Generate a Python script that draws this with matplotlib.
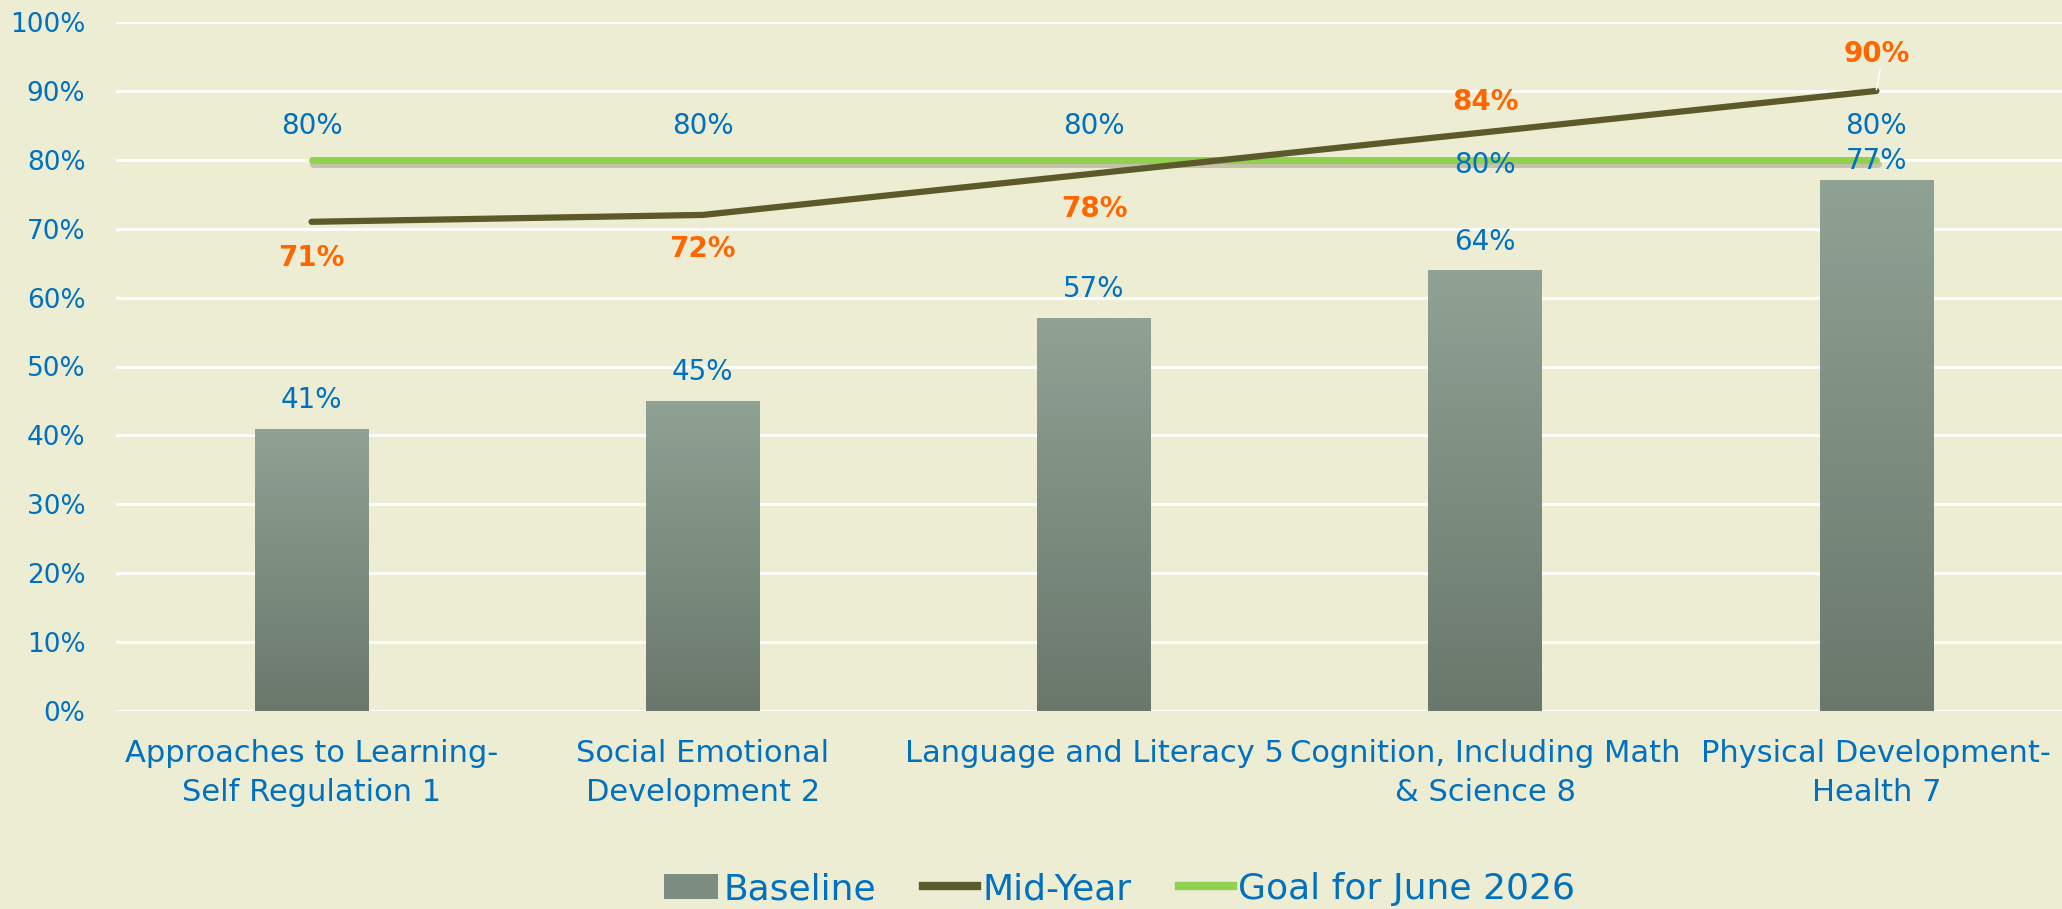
import numpy as np
import matplotlib
matplotlib.use("Agg")
import matplotlib.pyplot as plt
from matplotlib.patches import Patch
from matplotlib.lines import Line2D
from matplotlib.colors import LinearSegmentedColormap
import matplotlib.patheffects as pe

plt.rcParams['font.family'] = ['DejaVu Sans']

categories = ["Approaches to Learning-\nSelf Regulation 1",
              "Social Emotional\nDevelopment 2",
              "Language and Literacy 5",
              "Cognition, Including Math\n& Science 8",
              "Physical Development-\nHealth 7"]
baseline = [41, 45, 57, 64, 77]
mid_year = [71, 72, 78, 84, 90]
goal = [80, 80, 80, 80, 80]

bg = "#EDEDD3"
blue = "#0070C0"
orange = "#FF6600"

fig = plt.figure(figsize=(20.62, 9.09), dpi=100, facecolor=bg)
ax = fig.add_axes([116/2062, 1-711/909, (2072-116)/2062, (711-22)/909])
ax.set_facecolor(bg)

x = np.arange(len(categories))
bw = 0.29
bars = ax.bar(x, baseline, width=bw, color="none", zorder=2)
# gradient fill of bars
grad = np.linspace(1, 0, 256).reshape(-1, 1)
cm = LinearSegmentedColormap.from_list("g", ["#6A786C", "#8FA294"])
for b in bars:
    im = ax.imshow(grad, cmap=cm, aspect="auto", zorder=2,
                   extent=[b.get_x(), b.get_x()+b.get_width(), 0, b.get_height()])
    im.set_clip_path(b)

ax.plot(x, goal, color="#92D050", lw=5, solid_capstyle="round", zorder=3,
        path_effects=[pe.SimpleLineShadow(offset=(1, -3), shadow_color="#9a9a80", alpha=0.5), pe.Normal()])
ax.plot(x, mid_year, color="#5C5A2A", lw=4.5, solid_capstyle="round", zorder=4)

ax.set_xlim(-0.5, 4.5)
ax.set_ylim(0, 100)
ax.set_yticks(range(0, 101, 10))
ax.set_yticklabels([f"{v}%" for v in range(0, 101, 10)], color=blue, fontsize=19)
ax.set_xticks(x)
ax.set_xticklabels(categories, color=blue, fontsize=22, linespacing=1.45)
ax.tick_params(length=0)
ax.tick_params(axis="y", pad=22)
ax.tick_params(axis="x", pad=20)
ax.grid(axis="y", color="white", lw=2)
ax.set_axisbelow(True)
for s in ax.spines.values():
    s.set_visible(False)

# labels
base_off = [4.2, 4.2, 4.3, 4.1, 2.8]
for i, v in enumerate(baseline):
    ax.text(i, v + base_off[i], f"{v}%", ha="center", va="center", color=blue, fontsize=20, zorder=5)
goal_off = [4.9, 4.9, 4.9, -0.8, 4.9]
for i, v in enumerate(goal):
    ax.text(i, v + goal_off[i], f"{v}%", ha="center", va="center", color=blue, fontsize=20, zorder=5)
mid_off = [-5.2, -5.0, -5.1, 4.4, 5.4]
for i, v in enumerate(mid_year):
    ax.text(i, v + mid_off[i], f"{v}%", ha="center", va="center", color=orange, fontsize=20,
            fontweight="bold", zorder=5)
ax.plot([4, 4.01], [90.2, 93.2], color="white", lw=1, zorder=4)

handles = [Patch(facecolor="#7D8C80", edgecolor="none"),
           Line2D([0], [0], color="#5C5A2A", lw=6),
           Line2D([0], [0], color="#92D050", lw=6)]
leg = fig.legend(handles, ["Baseline", "Mid-Year", "Goal for June 2026"], loc="center",
                 bbox_to_anchor=(0.543, 1-889/909), ncol=3, frameon=False, fontsize=26,
                 handlelength=1.5, handletextpad=0.15, columnspacing=1.3)
for t in leg.get_texts():
    t.set_color(blue)

fig.savefig("out.png", dpi=100, facecolor=bg)
